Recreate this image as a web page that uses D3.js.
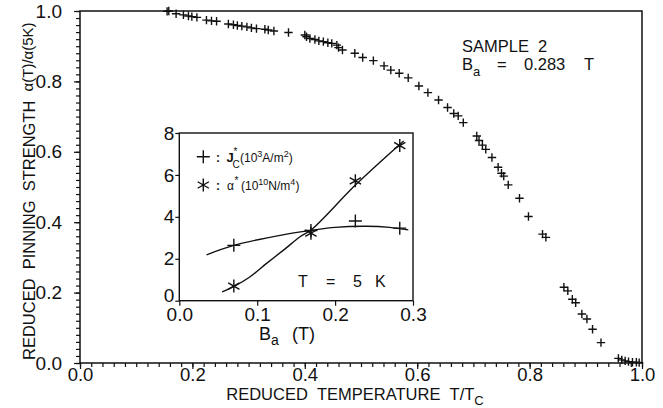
<!DOCTYPE html>
<html><head><meta charset="utf-8">
<script src="https://cdn.jsdelivr.net/npm/d3@7/dist/d3.min.js"></script>
<style>
html,body{margin:0;padding:0;background:#fff;}
svg{display:block;font-family:"Liberation Sans",Arial,Helvetica,sans-serif;}
</style></head><body>
<svg id="c" width="663" height="408"></svg>
<script>
// ---- main chart data ----
const tempT = [0.155,0.158,0.171,0.184,0.193,0.199,0.208,0.225,0.234,0.243,0.264,0.273,0.280,0.288,0.297,0.305,0.314,0.329,0.335,0.345,0.371,0.400,0.403,0.409,0.418,0.425,0.433,0.441,0.448,0.457,0.460,0.467,0.489,0.503,0.522,0.541,0.553,0.568,0.584,0.603,0.619,0.638,0.654,0.665,0.673,0.682,0.706,0.710,0.716,0.722,0.733,0.744,0.750,0.754,0.762,0.782,0.798,0.823,0.829,0.861,0.868,0.876,0.882,0.893,0.902,0.912,0.927,0.958,0.964,0.970,0.976,0.983,0.990,0.995];
const pinning = [0.999,1.0,0.992,0.989,0.986,0.984,0.982,0.974,0.972,0.971,0.963,0.961,0.959,0.957,0.955,0.952,0.950,0.948,0.946,0.943,0.939,0.932,0.927,0.922,0.919,0.915,0.913,0.910,0.908,0.903,0.896,0.889,0.880,0.868,0.859,0.844,0.832,0.823,0.810,0.787,0.768,0.747,0.726,0.709,0.702,0.683,0.645,0.632,0.619,0.607,0.584,0.556,0.539,0.531,0.506,0.468,0.416,0.366,0.357,0.215,0.205,0.181,0.171,0.139,0.125,0.096,0.058,0.013,0.009,0.006,0.004,0.002,0.002,0.001];
const mainXTicks = [0.0,0.2,0.4,0.6,0.8,1.0];
const mainYTicks = [0.0,0.2,0.4,0.6,0.8,1.0];

// ---- inset data ----
const fieldBa = [0.070,0.169,0.226,0.283];
const jcStar = [2.64,3.35,3.80,3.46];
const alphaStar = [0.70,3.22,5.72,7.40];
const jcFitBa = [0.035,0.070,0.133,0.169,0.200,0.240,0.270,0.294];
const jcFit = [2.19,2.64,3.14,3.35,3.50,3.55,3.50,3.38];
const alphaFitBa = [0.055,0.072,0.090,0.112,0.135,0.155,0.170,0.227,0.288];
const alphaFit = [0.42,0.72,1.12,1.78,2.45,3.05,3.40,5.55,7.62];
const insetXTicks = [0.0,0.1,0.2,0.3];
const insetYTicks = [0,2,4,6,8];

const svg = d3.select("#c");
const ink = "#111";

// ---- main scales ----
const x = d3.scaleLinear().domain([0,1]).range([80,642]);
const y = d3.scaleLinear().domain([0,1]).range([363,11]);

function fmt1(d){return d3.format(".1f")(d);}

// minor ticks
const minorX = d3.range(0,1.0001,0.02).map(d=>+d.toFixed(2));
svg.append("g").attr("transform","translate(0,363)")
  .call(d3.axisBottom(x).tickValues(minorX).tickSize(4).tickFormat(""))
  .call(g=>g.select(".domain").remove());
svg.append("g").attr("transform","translate(80,0)")
  .call(d3.axisLeft(y).tickValues(minorX).tickSize(4).tickFormat(""))
  .call(g=>g.select(".domain").remove());
// major ticks
const gx = svg.append("g").attr("transform","translate(0,363)")
  .call(d3.axisBottom(x).tickValues(mainXTicks).tickSize(6).tickPadding(0).tickFormat(fmt1));
gx.select(".domain").remove();
gx.selectAll("text").attr("font-size",18.5).attr("dy","0.66em").attr("fill",ink);
const gy = svg.append("g").attr("transform","translate(80,0)")
  .call(d3.axisLeft(y).tickValues(mainYTicks).tickSize(6).tickPadding(12).tickFormat(fmt1));
gy.select(".domain").remove();
gy.selectAll("text").attr("font-size",19).attr("fill",ink);
svg.selectAll(".tick line").attr("stroke",ink).attr("stroke-width",1.2);

// frame
svg.append("rect").attr("x",x(0)).attr("y",y(1)).attr("width",x(1)-x(0)).attr("height",y(0)-y(1))
  .attr("fill","none").attr("stroke",ink).attr("stroke-width",1.5);

// marker shapes
function plusPath(cx,cy,r){return `M${cx-r},${cy}H${cx+r}M${cx},${cy-r}V${cy+r}`;}
function starPath(cx,cy,r){
  let p=`M${cx},${cy-r}V${cy+r}`;
  [30,-30].forEach(a=>{const dx=r*Math.cos(a*Math.PI/180),dy=r*Math.sin(a*Math.PI/180);
    p+=`M${cx-dx},${cy-dy}L${cx+dx},${cy+dy}`;});
  return p;
}

svg.append("g").selectAll("path").data(tempT.map((t,i)=>[t,pinning[i]])).join("path")
  .attr("d",d=>plusPath(x(d[0]),y(d[1]),4.2)).attr("stroke",ink).attr("stroke-width",1.4).attr("fill","none");

// axis titles
svg.append("text").attr("x",355).attr("y",400).attr("text-anchor","middle")
  .attr("font-size",16.5).attr("fill",ink)
  .html('REDUCED&#160;&#160;TEMPERATURE&#160;&#160;T/T<tspan font-size="13" dy="5">C</tspan>');
svg.append("text").attr("transform","translate(35,360) rotate(-90)").attr("text-anchor","start")
  .attr("font-size",16.5).attr("fill",ink)
  .html('REDUCED&#160;&#160;PINNING&#160;&#160;STRENGTH&#160;&#160;<tspan font-size="15" dy="-2">α(T)/α(5K)</tspan>');

// sample annotation
svg.append("text").attr("x",462).attr("y",52).attr("font-size",16.5).attr("fill",ink)
  .html('SAMPLE&#160;&#160;2');
const ba = svg.append("text").attr("x",462).attr("y",70).attr("font-size",16.5).attr("fill",ink);
ba.append("tspan").text("B");
ba.append("tspan").attr("font-size",13).attr("dy",6).text("a");
ba.append("tspan").attr("x",497).attr("dy",-6).text("=");
ba.append("tspan").attr("x",524).text("0.283");
ba.append("tspan").attr("x",584).text("T");

// ---- inset ----
const ix = d3.scaleLinear().domain([0,0.3]).range([179.3,413]);
const iy = d3.scaleLinear().domain([0,8]).range([300.7,133]);
svg.append("rect").attr("x",ix(0)).attr("y",iy(8)).attr("width",ix(0.3)-ix(0)).attr("height",iy(0)-iy(8))
  .attr("fill","#fff").attr("stroke",ink).attr("stroke-width",1.4);
const igx = svg.append("g").attr("transform",`translate(0,${iy(0)})`)
  .call(d3.axisBottom(ix).tickValues(insetXTicks).tickSize(5).tickPadding(2).tickFormat(fmt1));
igx.select(".domain").remove();
igx.selectAll("text").attr("font-size",19).attr("fill",ink);
const igy = svg.append("g").attr("transform",`translate(${ix(0)},0)`)
  .call(d3.axisLeft(iy).tickValues(insetYTicks).tickSize(4).tickPadding(1).tickFormat(d3.format("d")));
igy.select(".domain").remove();
igy.selectAll("text").attr("font-size",19).attr("fill",ink);
igy.selectAll(".tick").filter(d=>d===0).select("text").attr("dy","0.05em");
svg.selectAll(".tick line").attr("stroke",ink).attr("stroke-width",1.2);

const line = d3.line().x(d=>ix(d[0])).y(d=>iy(d[1])).curve(d3.curveCatmullRom.alpha(0.5));
svg.append("path").attr("d",line(jcFitBa.map((b,i)=>[b,jcFit[i]])))
  .attr("fill","none").attr("stroke",ink).attr("stroke-width",1.4);
svg.append("path").attr("d",line(alphaFitBa.map((b,i)=>[b,alphaFit[i]])))
  .attr("fill","none").attr("stroke",ink).attr("stroke-width",1.4);

svg.append("g").selectAll("path").data(fieldBa.map((b,i)=>[b,jcStar[i]])).join("path")
  .attr("d",d=>plusPath(ix(d[0]),iy(d[1]),6.5)).attr("stroke",ink).attr("stroke-width",1.4).attr("fill","none");
svg.append("g").selectAll("path").data(fieldBa.map((b,i)=>[b,alphaStar[i]])).join("path")
  .attr("d",d=>starPath(ix(d[0]),iy(d[1]),6.5)).attr("stroke",ink).attr("stroke-width",1.4).attr("fill","none");

// inset legend
svg.append("path").attr("d",plusPath(203.3,156.7,6.5)).attr("stroke",ink).attr("stroke-width",1.4);
svg.append("path").attr("d",starPath(203.3,185,6.5)).attr("stroke",ink).attr("stroke-width",1.4);
function txt(xp,yp,size,s,bold){
  return svg.append("text").attr("x",xp).attr("y",yp).attr("font-size",size).attr("fill",ink)
    .attr("font-weight",bold?"bold":"normal").text(s);
}
// line 1: ": J_C*(10^3 A/m^2)"
txt(216,161.7,12,":",true);
txt(226.5,161.7,13,"J",true);
txt(233.5,155,10,"*",false);
txt(232.5,168,10,"C",false);
const l1 = svg.append("text").attr("x",240).attr("y",161.7).attr("font-size",12).attr("fill",ink);
l1.append("tspan").text("(10");
l1.append("tspan").attr("font-size",9).attr("dy",-5).text("3");
l1.append("tspan").attr("dy",5).text("A/m");
l1.append("tspan").attr("font-size",9).attr("dy",-5).text("2");
l1.append("tspan").attr("dy",5).text(")");
// line 2: ": α*(10^10 N/m^4)"
txt(216,190,12,":",true);
txt(227,190,12,"α",false);
txt(234.5,184,10,"*",false);
const l2 = svg.append("text").attr("x",241).attr("y",190).attr("font-size",12).attr("fill",ink);
l2.append("tspan").text("(10");
l2.append("tspan").attr("font-size",9).attr("dy",-5).text("10");
l2.append("tspan").attr("dy",5).text("N/m");
l2.append("tspan").attr("font-size",9).attr("dy",-5).text("4");
l2.append("tspan").attr("dy",5).text(")");

// inset annotations
const tk = svg.append("text").attr("y",286.7).attr("font-size",16).attr("fill",ink);
tk.append("tspan").attr("x",298).text("T");
tk.append("tspan").attr("x",326).text("=");
tk.append("tspan").attr("x",353).text("5");
tk.append("tspan").attr("x",375).text("K");
const bt = svg.append("text").attr("x",259).attr("y",340).attr("font-size",18).attr("fill",ink);
bt.append("tspan").text("B");
bt.append("tspan").attr("font-size",14).attr("dy",5).text("a");
bt.append("tspan").attr("x",292).attr("dy",-5).text("(T)");
</script>
</body></html>
